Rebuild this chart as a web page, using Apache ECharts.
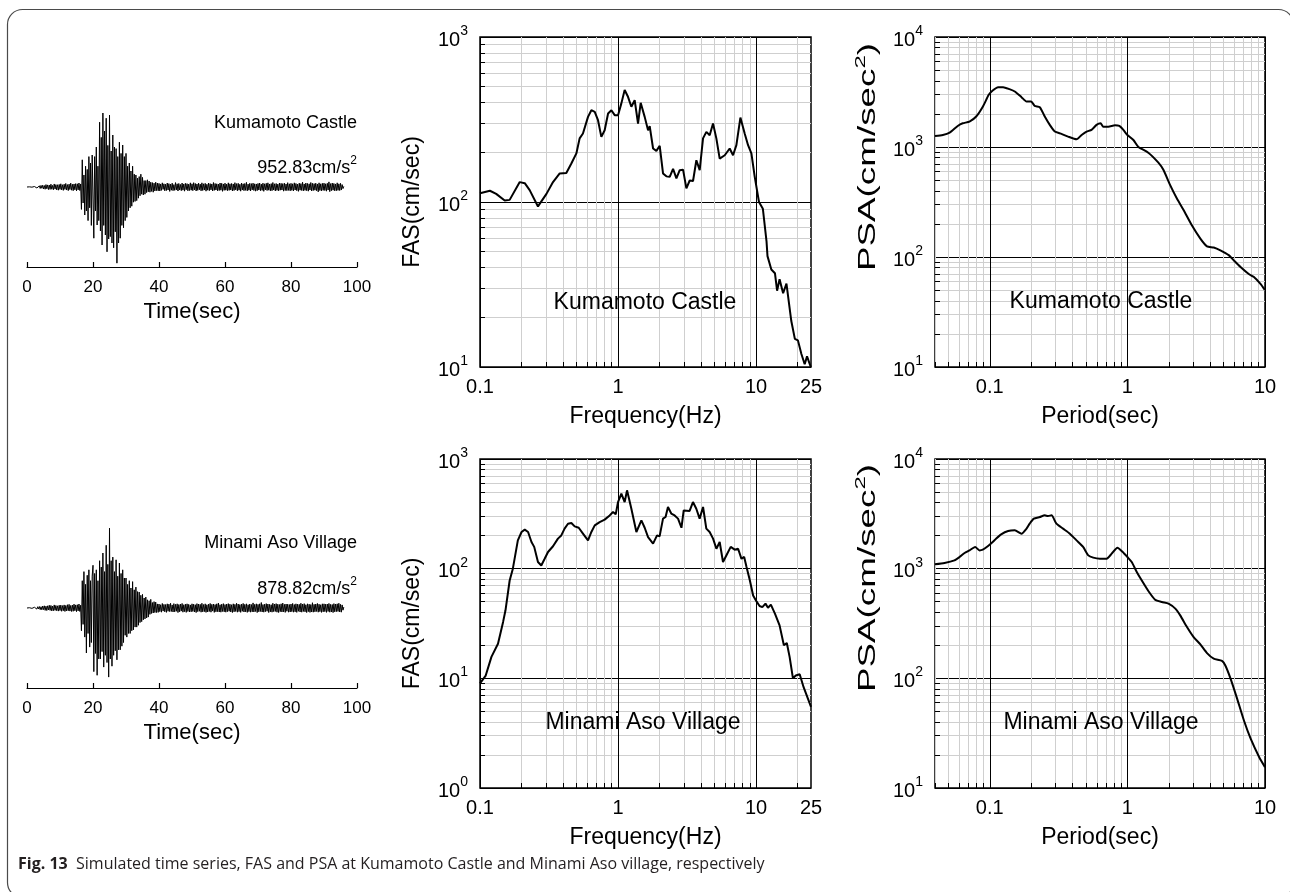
<!DOCTYPE html>
<html>
<head>
<meta charset="utf-8">
<script src="https://cdn.jsdelivr.net/npm/echarts@6/dist/echarts.min.js"></script>
<style>
  html, body { margin: 0; padding: 0; background: #fff; }
  #main { width: 1290px; height: 892px; }
</style>
</head>
<body>
<div id="main"></div>
<script>
// sample step of the acceleration records (sec)
const timeStep = 0.25;

// acceleration, Kumamoto Castle (cm/s2), one value every timeStep from 0 s to 96 s
const accKumamoto = [
  0, 1, -2, 2, -3, 3, -2, 4, -5, 6, -8, 10, -12, 9, -15, 14, -18, 20, -16, 22,
  -25, 18, -28, 30, -22, 26, -32, 24, -30, 35, -28, 20, -34, 38, -26, 30, -36, 28, -40, 32,
  -30, 40, -36, 28, -42, 35, -30, 44, -38, 30, -45, 36, -32, 48, -40, 34, -46, 38, -35, 42,
  -48, 40, -36, 50, -44, 38, -280, 340, -200, 150, -350, 260, -300, 220, -420, 380, -260, 300, -480, 400,
  420, -640, 380, -300, 500, -475, 260, -420, 810, -550, 620, -725, 925, -480, 700, -600, 860, -810, 520, -650,
  900, -620, 450, -700, 650, -760, 500, -560, 480, -952, 380, -700, 560, -640, 420, -480, 525, -510, 380, -420,
  420, -380, 260, -300, 300, -260, 200, -240, 260, -190, 160, -180, 150, -170, 110, -140, 130, -110, 160, -90,
  120, -100, 80, -90, 80, -70, 90, -60, 75, -65, 60, -55, 55, -65, 48, -50, 60, -45, 50, -48,
  45, -50, 38, -42, 52, -30, 40, -48, 35, -44, 50, -38, 42, -55, 36, -40, 48, -46, 30, -42,
  55, -36, 40, -50, 44, -38, 32, -46, 50, -40, 38, -52, 46, -34, 42, -48, 36, -44, 52, -40,
  40, -46, 54, -36, 44, -50, 38, -42, 48, -34, 36, -48, 52, -44, 40, -38, 46, -52, 34, -40,
  50, -46, 42, -36, 38, -50, 56, -42, 44, -38, 40, -48, 36, -44, 50, -40, 46, -54, 38, -42,
  48, -40, 36, -46, 52, -42, 40, -38, 44, -50, 38, -44, 54, -36, 42, -48, 46, -40, 34, -52,
  50, -38, 40, -46, 44, -42, 58, -48, 36, -40, 46, -50, 42, -36, 48, -44, 40, -52, 38, -46,
  44, -38, 50, -46, 36, -42, 48, -54, 40, -36, 46, -44, 52, -40, 38, -48, 42, -46, 56, -38,
  40, -50, 44, -42, 36, -48, 50, -40, 46, -38, 42, -52, 48, -44, 38, -46, 54, -42, 40, -48,
  46, -42, 40, -50, 52, -38, 44, -46, 36, -54, 48, -40, 42, -44, 60, -48, 38, -42, 50, -46,
  44, -52, 40, -38, 56, -50, 46, -44, 42, -40, 48, -46, 38, -60, 52, -44, 40, -48, 46, -42,
  48, -44, 40, -52, 46, -38, 64, -58, 42, -46, 50, -40, 44, -48, 38, -46, 52, -42, 40, -44,
  46, -38, 30, -20, 8
];

// acceleration, Minami Aso Village (cm/s2)
const accMinamiAso = [
  0, 1, -2, 3, -3, 2, -4, 5, -6, 8, -10, 8, -12, 14, -11, 16, -18, 14, -20, 22,
  -18, 24, -26, 20, -28, 24, -22, 30, -26, 28, -32, 22, -30, 34, -26, 28, -30, 24, -34, 30,
  -28, 32, -36, 26, -30, 34, -38, 28, -32, 36, -30, 40, -34, 28, -38, 32, -36, 42, -30, 34,
  -40, 36, -32, 44, -38, 30, -250, 300, -180, 400, -320, 260, -495, 360, -280, 420, -430, 300, -380, 350,
  470, -700, 380, -500, 420, -740, 300, -560, 520, -560, 450, -480, 605, -650, 400, -520, 690, -600, 480, -760,
  878, -560, 520, -640, 560, -520, 400, -470, 530, -570, 350, -460, 495, -460, 380, -420, 420, -380, 330, -300,
  330, -320, 260, -280, 300, -280, 220, -250, 290, -240, 200, -210, 230, -210, 180, -190, 175, -160, 140, -150,
  150, -130, 110, -120, 120, -110, 90, -100, 80, -70, 95, -60, 60, -55, 70, -50, 65, -50, 45, -48,
  44, -40, 36, -46, 50, -34, 40, -42, 38, -48, 46, -36, 42, -40, 52, -38, 34, -44, 48, -42,
  40, -36, 46, -50, 38, -42, 44, -34, 50, -46, 36, -40, 42, -48, 46, -38, 40, -44, 34, -42,
  46, -38, 42, -44, 36, -50, 48, -40, 44, -36, 40, -46, 52, -42, 38, -40, 46, -48, 36, -44,
  42, -38, 50, -46, 40, -34, 44, -48, 38, -42, 46, -40, 54, -44, 36, -46, 42, -38, 48, -42,
  38, -46, 44, -40, 48, -36, 42, -44, 36, -50, 46, -42, 40, -38, 52, -46, 44, -40, 38, -48,
  42, -36, 50, -44, 40, -42, 46, -48, 36, -40, 44, -46, 38, -42, 56, -44, 40, -38, 46, -50,
  40, -42, 46, -38, 60, -44, 38, -46, 42, -40, 48, -36, 44, -50, 40, -42, 36, -46, 52, -40,
  44, -38, 48, -46, 42, -50, 38, -40, 46, -44, 54, -42, 40, -48, 44, -36, 42, -46, 38, -44,
  44, -40, 50, -46, 38, -42, 46, -48, 42, -36, 40, -44, 52, -46, 44, -38, 48, -42, 36, -50,
  46, -40, 42, -48, 38, -44, 58, -46, 40, -42, 44, -38, 50, -46, 42, -40, 36, -48, 46, -42,
  46, -40, 42, -48, 44, -38, 50, -46, 40, -44, 38, -50, 48, -42, 44, -40, 46, -38, 52, -44,
  40, -46, 34, -24, 10
];

// Fourier amplitude spectra
const fasKumamotoFreq = [0.1, 0.118, 0.131, 0.151, 0.164, 0.194, 0.211, 0.229, 0.263, 0.303, 0.338, 0.378, 0.422, 0.459, 0.499,
  0.527, 0.557, 0.606, 0.641, 0.678, 0.716, 0.757, 0.8, 0.847, 0.895, 0.946, 1.0, 1.057, 1.117, 1.181, 1.249, 1.32, 1.396,
  1.459, 1.56, 1.65, 1.696, 1.794, 1.896, 2.004, 2.118, 2.24, 2.368, 2.504, 2.647, 2.798, 2.958, 3.127, 3.305, 3.494,
  3.694, 3.905, 4.128, 4.364, 4.613, 4.877, 5.155, 5.45, 5.93, 6.44, 6.81, 7.2, 7.7, 8.27, 8.75, 8.99, 9.25, 9.78,
  10.5, 11.2, 11.9, 12.1, 12.9, 13.7, 14.2, 14.8, 15.7, 16.6, 18.0, 19.1, 20.1, 21.3, 22.5, 23.4, 24.9];
const fasKumamotoAmp = [113, 117, 112, 102, 103, 132, 130, 118, 94, 112, 132, 149, 150, 171, 197,
  243, 260, 328, 360, 352, 313, 248, 272, 344, 360, 336, 336, 396, 477, 434, 378, 414, 299,
  399, 328, 272, 288, 211, 204, 219, 149, 143, 142, 159, 139, 156, 157, 121, 135, 134,
  179, 156, 243, 266, 254, 299, 243, 183, 192, 211, 192, 221, 325, 260, 221, 221, 197, 142,
  100, 91, 58, 47, 39, 37, 29, 34, 28, 32, 19, 14.8, 14.5, 12, 10.4, 11.6, 10];

const fasMinamiAsoFreq = [0.1, 0.11, 0.121, 0.135, 0.147, 0.153, 0.164, 0.173, 0.188, 0.2, 0.211, 0.223, 0.236, 0.247, 0.263,
  0.278, 0.294, 0.311, 0.338, 0.367, 0.388, 0.41, 0.434, 0.459, 0.485, 0.519, 0.557, 0.606, 0.641, 0.678, 0.736, 0.8,
  0.87, 0.92, 0.962, 1.0, 1.057, 1.117, 1.162, 1.249, 1.358, 1.476, 1.56, 1.65, 1.794, 1.917, 2.0, 2.118, 2.21, 2.3,
  2.43, 2.57, 2.72, 2.88, 2.99, 3.3, 3.49, 3.69, 3.9, 4.13, 4.36, 4.61, 4.88, 5.16, 5.45, 5.76, 6.09, 6.55, 7.0, 7.41,
  7.84, 8.2, 8.52, 9.02, 9.52, 10.1, 10.6, 11.1, 11.7, 12.2, 12.8, 13.7, 14.8, 15.9, 16.7, 17.5, 18.5, 19.4, 20.7, 22.1, 25];
const fasMinamiAsoAmp = [9, 10.6, 15.7, 20.7, 32.7, 41.7, 78, 100, 181, 216, 227, 216, 175, 158, 115,
  107, 123, 142, 160, 188, 201, 232, 257, 261, 243, 236, 209, 181, 216, 248, 266, 280,
  306, 329, 313, 405, 483, 405, 518, 352, 216, 276, 236, 194, 169, 201, 197, 286, 296, 365,
  318, 306, 286, 236, 340, 336, 405, 352, 286, 365, 232, 216, 188, 152, 175, 115, 132, 158, 149, 152,
  123, 128, 104, 78, 57, 50, 45.7, 44.6, 48, 44, 47, 38.9, 30.4, 20, 21, 15.7, 10, 10.6, 10.9, 8.3, 5.5];

// pseudo spectral acceleration
const psaKumamotoPeriod = [0.04, 0.0456, 0.0511, 0.0585, 0.0636, 0.0712, 0.0797, 0.0892, 0.0983, 0.105, 0.115, 0.125,
  0.139, 0.152, 0.17, 0.185, 0.2, 0.212, 0.231, 0.251, 0.273, 0.297, 0.332, 0.371, 0.427, 0.465, 0.505, 0.549,
  0.597, 0.639, 0.668, 0.727, 0.813, 0.874, 0.935, 1.0, 1.106, 1.203, 1.42, 1.68, 1.83, 2.046, 2.29, 2.56, 2.94,
  3.39, 3.79, 4.24, 4.74, 5.45, 5.94, 6.64, 7.62, 8.27, 9.27, 10];
const psaKumamotoAcc = [1260, 1286, 1351, 1554, 1643, 1701, 1892, 2336, 2980, 3267, 3501, 3501,
  3357, 3198, 2839, 2590, 2590, 2365, 2301, 1892, 1588, 1381, 1315, 1242, 1175, 1286, 1381, 1430,
  1588, 1643, 1531, 1531, 1576, 1555, 1430, 1286, 1158, 1000, 888, 720, 617, 450, 340, 267, 194,
  147, 125, 122, 115, 104, 93, 81, 70, 66, 57, 50];

const psaMinamiAsoPeriod = [0.04, 0.0469, 0.0554, 0.0603, 0.0656, 0.0713, 0.0783, 0.0842, 0.089, 0.0967, 0.105, 0.111,
  0.121, 0.136, 0.152, 0.17, 0.185, 0.195, 0.209, 0.231, 0.251, 0.265, 0.281, 0.305, 0.341, 0.382, 0.427, 0.477,
  0.52, 0.565, 0.632, 0.707, 0.769, 0.846, 0.925, 1.0, 1.075, 1.17, 1.27, 1.42, 1.59, 1.78, 1.99, 2.23, 2.42,
  2.71, 3.03, 3.39, 3.79, 4.24, 4.87, 5.15, 5.61, 6.28, 7.04, 7.88, 9.06, 10];
const psaMinamiAsoAcc = [1096, 1126, 1191, 1277, 1389, 1468, 1577, 1468, 1490, 1599, 1750, 1877,
  2057, 2205, 2237, 2085, 2317, 2573, 2856, 2958, 3064, 3018, 3064, 2573, 2317, 2085, 1812, 1577,
  1323, 1260, 1233, 1233, 1370, 1553, 1419, 1277, 1150, 933, 783, 626, 521, 496, 480, 432, 375,
  294, 238, 204, 170, 151, 144, 131, 100, 65, 41, 28, 19.2, 15.5];

// tick values
const freqLabels = [0.1, 1, 10, 25];
const freqMinor = [0.2, 0.3, 0.4, 0.5, 0.6, 0.7, 0.8, 0.9, 2, 3, 4, 5, 6, 7, 8, 9, 20];
const periodLabels = [0.1, 1, 10];
const periodMinor = [0.04, 0.05, 0.06, 0.07, 0.08, 0.09, 0.2, 0.3, 0.4, 0.5, 0.6, 0.7, 0.8, 0.9, 2, 3, 4, 5, 6, 7, 8, 9];
const fasKumamotoTicks = [10, 100, 1000];
const fasMinamiAsoTicks = [1, 10, 100, 1000];
const psaTicks = [10, 100, 1000, 10000];
const minor1to1000 = [2, 3, 4, 5, 6, 7, 8, 9, 20, 30, 40, 50, 60, 70, 80, 90, 200, 300, 400, 500, 600, 700, 800, 900];
const minor10to1000 = [20, 30, 40, 50, 60, 70, 80, 90, 200, 300, 400, 500, 600, 700, 800, 900];
const minor10to10000 = [20, 30, 40, 50, 60, 70, 80, 90, 200, 300, 400, 500, 600, 700, 800, 900,
  2000, 3000, 4000, 5000, 6000, 7000, 8000, 9000];

const FONT = '"Liberation Sans", Arial, Helvetica, sans-serif';
const CAPTION_FONT = '"Open Sans", "Noto Sans", sans-serif';

const supRich = {
  b: { fontSize: 20, fontFamily: FONT, color: '#000', lineHeight: 26, verticalAlign: 'bottom' },
  s: { fontSize: 14, fontFamily: FONT, color: '#000', lineHeight: 14, verticalAlign: 'top' }
};
const nameRich = {
  a: { fontSize: 23, fontFamily: FONT, color: '#000', lineHeight: 28, verticalAlign: 'bottom' },
  s: { fontSize: 14, fontFamily: FONT, color: '#000', lineHeight: 14, verticalAlign: 'top' }
};

const pow10Label = v => '{b|10}{s|' + Math.round(Math.log10(v)) + '}';
const plainLabel = v => String(+Number(v).toPrecision(4));

const grids = [];
const xAxes = [];
const yAxes = [];
const series = [];

function addTimePanel(box, acc, range) {
  const g = grids.length;
  grids.push({ left: box[0], top: box[1], width: box[2], height: box[3], show: false });
  xAxes.push({
    gridIndex: g, type: 'value', min: 0, max: 100, interval: 20,
    axisLine: { onZero: false, lineStyle: { color: '#000', width: 1.2 } },
    axisTick: { inside: true, length: 5, lineStyle: { color: '#000', width: 1.2 } },
    splitLine: { show: false },
    axisLabel: { fontSize: 17, fontFamily: FONT, color: '#000', margin: 12, formatter: plainLabel },
    name: 'Time(sec)', nameLocation: 'middle', nameGap: 34,
    nameTextStyle: { fontSize: 22, fontFamily: FONT, color: '#000' }
  });
  yAxes.push({ gridIndex: g, type: 'value', min: -range, max: range, show: false });
  series.push({
    type: 'line', xAxisIndex: xAxes.length - 1, yAxisIndex: yAxes.length - 1,
    showSymbol: false, silent: true,
    lineStyle: { color: '#000', width: 1 },
    data: acc.map((v, i) => [i * timeStep, v])
  });
}

function addLogPanel(box, p) {
  const g = grids.length;
  grids.push({ left: box[0], top: box[1], width: box[2], height: box[3], show: true,
    borderColor: '#000', borderWidth: 1.5, backgroundColor: 'rgba(0,0,0,0)' });

  // minor grid lines and inner ticks
  xAxes.push({
    gridIndex: g, type: 'log', logBase: 10, min: p.xMin, max: p.xMax, position: 'bottom',
    axisLine: { show: false },
    axisTick: { show: true, inside: true, length: 5, customValues: p.xMinor, lineStyle: { color: '#000' } },
    axisLabel: { show: false },
    splitLine: { show: true, lineStyle: { color: '#cfcfcf', width: 1 } }
  });
  yAxes.push({
    gridIndex: g, type: 'log', logBase: 10, min: p.yMin, max: p.yMax, position: 'left',
    axisLine: { show: false },
    axisTick: { show: true, inside: true, length: 5, customValues: p.yMinor, lineStyle: { color: '#000' } },
    axisLabel: { show: false },
    splitLine: { show: true, lineStyle: { color: '#cfcfcf', width: 1 } }
  });

  // decades: black lines and labels
  const xi = xAxes.length;
  xAxes.push({
    gridIndex: g, type: 'log', logBase: 10, min: p.xMin, max: p.xMax, position: 'bottom',
    axisLine: { show: false },
    axisTick: { show: false, customValues: p.xMajor },
    axisLabel: { customValues: p.xLabels, formatter: plainLabel, fontSize: 20, fontFamily: FONT, color: '#000', margin: 10 },
    splitLine: { show: true, lineStyle: { color: '#000', width: 1 } },
    name: p.xName, nameLocation: 'middle', nameGap: 38,
    nameTextStyle: { fontSize: 23, fontFamily: FONT, color: '#000' }
  });
  const yi = yAxes.length;
  yAxes.push({
    gridIndex: g, type: 'log', logBase: 10, min: p.yMin, max: p.yMax, position: 'left',
    axisLine: { show: false },
    axisTick: { show: false, customValues: p.yMajor },
    axisLabel: { customValues: p.yMajor, formatter: pow10Label, rich: supRich, margin: 12 },
    splitLine: { show: true, lineStyle: { color: '#000', width: 1 } },
    name: p.yName || '', nameLocation: 'middle', nameGap: 56,
    nameTextStyle: { rich: nameRich }
  });

  series.push({
    type: 'line', xAxisIndex: xi, yAxisIndex: yi,
    showSymbol: false, silent: true, smooth: p.smooth || false,
    lineStyle: { color: '#000', width: 2 },
    data: p.xs.map((x, i) => [x, p.ys[i]])
  });
}

addTimePanel([27, 107, 330, 160], accKumamoto, 1000);
addLogPanel([480, 37, 331, 330], {
  xMin: 0.1, xMax: 25, xMinor: freqMinor, xMajor: [0.1, 1, 10], xLabels: freqLabels,
  yMin: 10, yMax: 1000, yMinor: minor10to1000, yMajor: fasKumamotoTicks,
  xName: 'Frequency(Hz)', yName: '{a|FAS(cm/sec)}',
  xs: fasKumamotoFreq, ys: fasKumamotoAmp
});
addLogPanel([935, 37, 330, 330], {
  xMin: 0.04, xMax: 10, xMinor: periodMinor, xMajor: periodLabels, xLabels: periodLabels,
  yMin: 10, yMax: 10000, yMinor: minor10to10000, yMajor: psaTicks,
  xName: 'Period(sec)',
  xs: psaKumamotoPeriod, ys: psaKumamotoAcc, smooth: 0.2
});
addTimePanel([27, 528, 330, 160], accMinamiAso, 880);
addLogPanel([480, 459, 331, 329], {
  xMin: 0.1, xMax: 25, xMinor: freqMinor, xMajor: [0.1, 1, 10], xLabels: freqLabels,
  yMin: 1, yMax: 1000, yMinor: minor1to1000, yMajor: fasMinamiAsoTicks,
  xName: 'Frequency(Hz)', yName: '{a|FAS(cm/sec)}',
  xs: fasMinamiAsoFreq, ys: fasMinamiAsoAmp
});
addLogPanel([935, 459, 330, 329], {
  xMin: 0.04, xMax: 10, xMinor: periodMinor, xMajor: periodLabels, xLabels: periodLabels,
  yMin: 10, yMax: 10000, yMinor: minor10to10000, yMajor: psaTicks,
  xName: 'Period(sec)',
  xs: psaMinamiAsoPeriod, ys: psaMinamiAsoAcc, smooth: 0.2
});

function textRich(size) {
  const sub = Math.round(size * 0.65);
  return {
    a: { fontSize: size, fontFamily: FONT, fill: '#000', color: '#000', lineHeight: size + 4, verticalAlign: 'bottom' },
    s: { fontSize: sub, fontFamily: FONT, fill: '#000', color: '#000', lineHeight: sub, verticalAlign: 'top' }
  };
}

function label(x, y, text, size, align) {
  return {
    type: 'text', x: x, y: y, silent: true, z: 10,
    style: {
      text: text, fontSize: size, fontFamily: FONT, fill: '#000',
      align: align, verticalAlign: 'middle', textAlign: align, textVerticalAlign: 'middle',
      rich: textRich(size)
    }
  };
}

// the PSA axis title is drawn long and narrow in the source figure
function psaTitle(x, y) {
  const t = label(x, y, '{a|PSA(cm/sec}{s|2}{a|)}', 23, 'center');
  t.rotation = Math.PI / 2;
  t.scaleX = 1.6;
  return t;
}

const graphics = [
  { type: 'rect', silent: true, z: 0,
    shape: { x: 7.5, y: 9.5, width: 1286, height: 888, r: 15 },
    style: { fill: 'none', stroke: '#4a4a4a', lineWidth: 1.2 } },
  label(357, 123, 'Kumamoto Castle', 18, 'right'),
  label(357, 166, '{a|952.83cm/s}{s|2}', 18, 'right'),
  label(357, 543, 'Minami Aso Village', 18, 'right'),
  label(357, 587, '{a|878.82cm/s}{s|2}', 18, 'right'),
  label(645, 303, 'Kumamoto Castle', 23, 'center'),
  label(1101, 302, 'Kumamoto Castle', 23, 'center'),
  label(643, 723, 'Minami Aso Village', 23, 'center'),
  label(1101, 723, 'Minami Aso Village', 23, 'center'),
  psaTitle(867, 157),
  psaTitle(867, 578),
  { type: 'text', x: 18, y: 864, silent: true,
    style: {
      text: '{b|Fig. 13}  Simulated time series, FAS and PSA at Kumamoto Castle and Minami Aso village, respectively',
      fontSize: 16, fontFamily: CAPTION_FONT, fill: '#231f20',
      verticalAlign: 'middle', textVerticalAlign: 'middle',
      rich: { b: { fontSize: 16, fontWeight: 'bold', fontFamily: CAPTION_FONT, fill: '#231f20', color: '#231f20' } }
    } }
];

const chart = echarts.init(document.getElementById('main'), null, { renderer: 'canvas' });
chart.setOption({
  backgroundColor: '#fff',
  animation: false,
  textStyle: { fontFamily: FONT },
  grid: grids,
  xAxis: xAxes,
  yAxis: yAxes,
  series: series,
  graphic: graphics
});
</script>
</body>
</html>
